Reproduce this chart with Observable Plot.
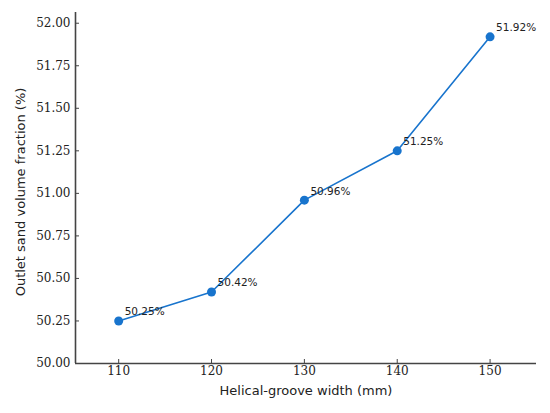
<!DOCTYPE html>
<html>
<head>
<meta charset="utf-8">
<script src="https://cdn.jsdelivr.net/npm/d3@7"></script>
<script src="https://cdn.jsdelivr.net/npm/@observablehq/plot@0.6"></script>
<style>
  html, body { margin: 0; padding: 0; background: #fff; }
</style>
</head>
<body>
<div id="chart"></div>
<script>
const widths = [110, 120, 130, 140, 150];
const fractions = [50.25, 50.42, 50.96, 51.25, 51.92];
const labels = ["50.25%", "50.42%", "50.96%", "51.25%", "51.92%"];
const xTicks = [110, 120, 130, 140, 150];
const yTicks = [50.00, 50.25, 50.50, 50.75, 51.00, 51.25, 51.50, 51.75, 52.00];
const xLabel = "Helical-groove width (mm)";
const yLabel = "Outlet sand volume fraction (%)";

const data = widths.map((w, i) => ({w, f: fractions[i], label: labels[i]}));
const xDomain = [105.35, 155.0];
const yDomain = [50.0, 52.063];
const axisColor = "#444";
const blue = "#1874cd";
const serif = "'DejaVu Serif', 'Liberation Serif', serif";
const sans = "'DejaVu Sans', sans-serif";

const chart = Plot.plot({
  width: 550,
  height: 413,
  marginLeft: 75,
  marginRight: 14,
  marginTop: 12,
  marginBottom: 50,
  style: {background: "#fff", overflow: "visible", fontFamily: sans},
  x: {type: "linear", domain: xDomain},
  y: {type: "linear", domain: yDomain},
  marks: [
    // inward ticks (no text)
    Plot.axisX(xTicks, {tickSize: 4, text: null, label: null, dy: -4, stroke: axisColor, strokeWidth: 1}),
    Plot.axisY(yTicks, {tickSize: 4, text: null, label: null, dx: 4, stroke: axisColor, strokeWidth: 1}),
    // tick labels (serif)
    Plot.text(xTicks, {x: d => d, frameAnchor: "bottom", dy: 11, text: d => String(d), fontSize: 12, fontFamily: serif, fill: "#222"}),
    Plot.text(yTicks, {y: d => d, frameAnchor: "left", dx: -5, textAnchor: "end", text: d => d.toFixed(2), fontSize: 12, fontFamily: serif, fill: "#222"}),
    // spines
    Plot.ruleX([xDomain[0]], {y1: yDomain[0], y2: yDomain[1], stroke: axisColor, strokeWidth: 1.6}),
    Plot.ruleY([yDomain[0]], {x1: xDomain[0], x2: xDomain[1], stroke: axisColor, strokeWidth: 1.6}),
    // axis titles
    Plot.text([xLabel], {frameAnchor: "bottom", dy: 31, fontSize: 13, fontFamily: sans, fill: "#222", text: d => d}),
    Plot.text([yLabel], {frameAnchor: "left", textAnchor: "middle", dx: -55, dy: 4, rotate: -90, fontSize: 13, fontFamily: sans, fill: "#222", text: d => d}),
    // data
    Plot.line(data, {x: "w", y: "f", stroke: blue, strokeWidth: 1.6}),
    Plot.dot(data, {x: "w", y: "f", r: 4.5, fill: blue, stroke: "none"}),
    Plot.text(data, {x: "w", y: "f", text: "label", dx: 6, dy: -9, textAnchor: "start", fontSize: 10.5, fontFamily: sans, fill: "#222"})
  ]
});
document.getElementById("chart").appendChild(chart);
</script>
</body>
</html>
